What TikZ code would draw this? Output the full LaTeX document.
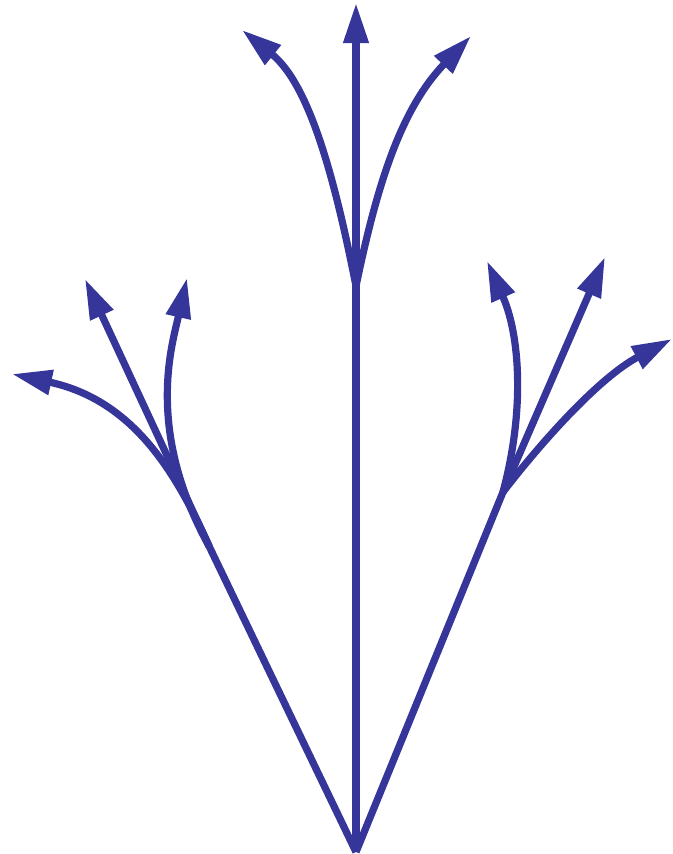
\documentclass[tikz,border=0pt]{standalone}
\usetikzlibrary{arrows.meta}
\definecolor{branch}{RGB}{53,53,154}
\tikzset{
  edge/.style={draw=branch, line width=5.4pt},
  arrowedge/.style={edge, -{Triangle[length=30pt,width=18pt]}}
}
\begin{document}
\begin{tikzpicture}[x=0.75pt,y=-0.75pt]
\useasboundingbox (0,0) rectangle (672,854);
% main points
\coordinate (root) at (356,852);
\coordinate (jl) at (209,546);
\coordinate (jc) at (356,286);
\coordinate (jr) at (503,492);
% tips
\coordinate (tc1) at (242,30);
\coordinate (tc2) at (356,3);
\coordinate (tc3) at (471,36);
\coordinate (tl1) at (12,374);
\coordinate (tl2) at (85,279);
\coordinate (tl3) at (187,278);
\coordinate (tr1) at (487,261);
\coordinate (tr2) at (605,257);
\coordinate (tr3) at (672,339);
% trunks
\draw[edge] (root) -- (jl);
\draw[edge] (root) -- (jc);
\draw[edge] (root) -- (jr);
% centre children
\draw[arrowedge] (jc) .. controls (335,180) and (310,85) .. (tc1);
\draw[arrowedge] (jc) -- (tc2);
\draw[arrowedge] (jc) .. controls (378,180) and (402,108) .. (tc3);
% left children
\draw[arrowedge] (jl) .. controls (175,470) and (132,400) .. (tl1);
\draw[arrowedge] (jl) -- (tl2);
\draw[arrowedge] (jl) .. controls (145,430) and (172,345) .. (tl3);
% right children
\draw[arrowedge] (jr) .. controls (525,410) and (520,335) .. (tr1);
\draw[arrowedge] (jr) -- (tr2);
\draw[arrowedge] (jr) .. controls (543,440) and (600,377) .. (tr3);
\end{tikzpicture}
\end{document}
